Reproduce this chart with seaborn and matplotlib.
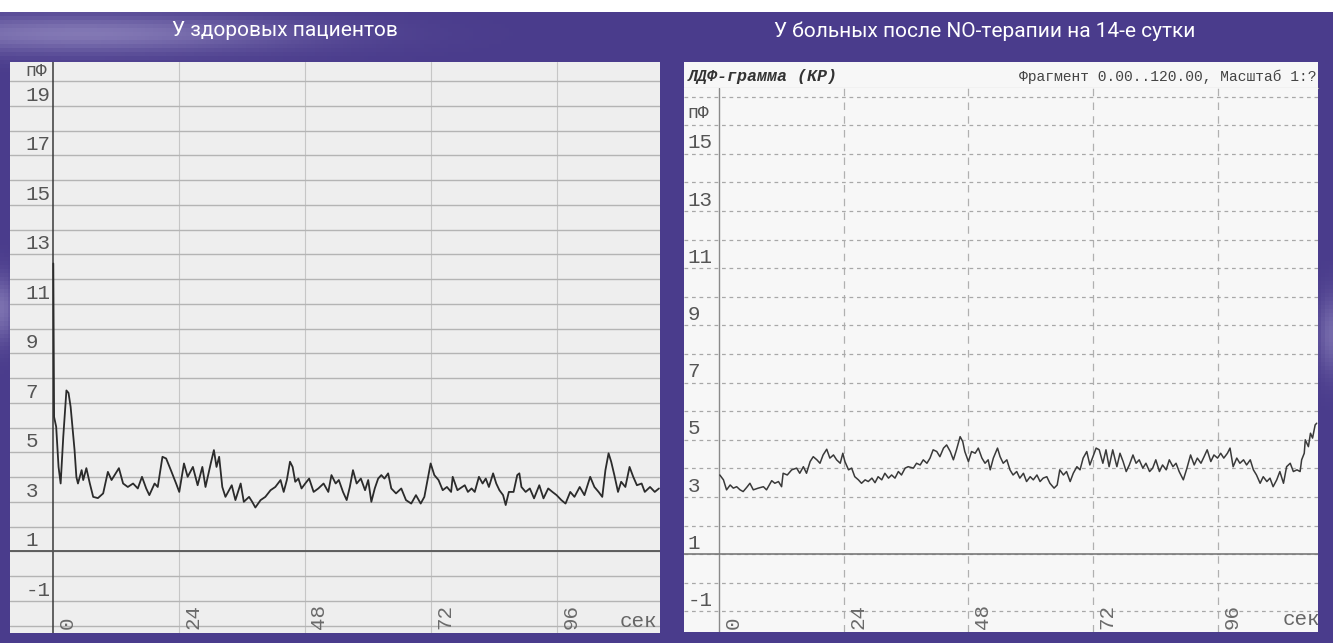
import numpy as np
import matplotlib
matplotlib.use('Agg')
import matplotlib.pyplot as plt
import matplotlib.transforms as mtransforms
from matplotlib.patches import Rectangle
import seaborn as sns

# --- данные ---
titles = ['У здоровых пациентов', 'У больных после NO-терапии на 14-е сутки']
x_ticks = [0, 24, 48, 72, 96]
x_labels = ['0', '24', '48', '72', '96']
left_yvals = [19, 17, 15, 13, 11, 9, 7, 5, 3, 1, -1]
right_yvals = [15, 13, 11, 9, 7, 5, 3, 1, -1]
unit_label = 'пФ'
time_label = 'сек'
header_left = 'ЛДФ-грамма (КР)'
header_right = 'Фрагмент 0.00..120.00, Масштаб 1:?'

# здоровые пациенты: сек / пФ
left_sec = [0, 0.15, 0.55, 1.0, 1.4, 1.9, 2.5, 2.9, 3.3, 3.7,
            4.05, 4.4, 4.7, 5.4, 5.7, 6.3, 6.95, 7.6, 8.5, 9.5,
            10.4, 11.1, 12.5, 13.3, 14.2, 15.2, 16.1, 16.9, 17.7, 18.3,
            19.3, 19.9, 20.8, 21.5, 22.4, 23.4, 24.0, 24.9, 25.6, 26.6,
            27.5, 28.4, 29.0, 30.0, 30.6, 31.1, 31.6, 32.2, 32.8, 34.0,
            34.7, 35.7, 36.3, 37.3, 37.9, 38.5, 39.5, 40.4, 41.4, 42.3,
            43.3, 43.9, 44.5, 45.1, 45.6, 46.1, 46.7, 47.3, 48.0, 48.75,
            49.6, 50.5, 51.5, 52.4, 53.0, 53.8, 54.4, 55.2, 55.9, 56.5,
            57.1, 57.8, 58.6, 59.4, 60.0, 60.6, 61.25, 61.9, 62.5, 63.1,
            63.8, 64.4, 65.3, 66.3, 67.2, 68.2, 69.1, 70.0, 70.7, 71.3,
            71.9, 72.6, 73.4, 74.2, 75.0, 75.8, 76.1, 77.0, 78.4, 79.0,
            79.7, 80.3, 81.1, 81.8, 82.4, 83.0, 83.8, 84.4, 85.0, 85.7,
            86.2, 86.8, 87.7, 88.4, 88.8, 89.2, 90.0, 90.8, 91.6, 92.6,
            93.4, 94.3, 95.1, 95.9, 96.8, 97.6, 98.5, 99.3, 100.3, 101.2,
            102.3, 103.1, 103.9, 104.6, 105.2, 105.8, 106.3, 106.9, 107.6, 108.2,
            109.0, 109.8, 110.5, 111.2, 112.1, 112.7, 113.7, 114.6, 115.4]
left_pf = [12.63, 6.43, 6.03, 4.41, 3.74, 5.63, 7.5, 7.4, 6.84, 5.9,
           5.09, 4.0, 3.74, 4.28, 3.88, 4.36, 3.75, 3.2, 3.15, 3.34,
           4.21, 3.88, 4.36, 3.74, 3.6, 3.74, 3.54, 4.01, 3.54, 3.27,
           3.74, 3.6, 4.82, 4.75, 4.28, 3.74, 3.4, 4.55, 4.01, 4.41,
           3.67, 4.41, 3.6, 4.55, 5.09, 4.41, 4.82, 3.6, 3.2, 3.67,
           3.07, 3.74, 3.0, 3.2, 3.0, 2.77, 3.07, 3.2, 3.47, 3.6,
           3.88, 3.4, 3.88, 4.62, 4.41, 3.81, 3.94, 3.54, 3.74, 3.94,
           3.4, 3.54, 3.74, 3.4, 4.08, 3.74, 3.88, 3.4, 3.07, 3.6,
           4.28, 3.74, 3.94, 3.47, 3.88, 3.0, 3.54, 3.94, 4.08, 3.94,
           4.15, 3.54, 3.34, 3.54, 3.07, 2.93, 3.27, 2.93, 3.2, 3.88,
           4.55, 4.08, 3.88, 3.47, 3.6, 3.4, 4.01, 3.47, 3.67, 3.4,
           3.54, 3.4, 4.01, 3.74, 3.94, 3.6, 4.15, 3.74, 3.47, 3.27,
           2.87, 3.4, 3.4, 4.08, 4.15, 3.6, 3.4, 3.54, 3.14, 3.67,
           3.14, 3.54, 3.4, 3.27, 3.07, 2.93, 3.4, 3.2, 3.6, 3.27,
           4.01, 3.6, 3.4, 3.2, 4.28, 4.96, 4.62, 4.08, 3.4, 3.81,
           3.6, 4.41, 4.01, 3.67, 3.74, 3.4, 3.6, 3.4, 3.54]

# больные после NO-терапии: сек / пФ
right_sec = [0.1, 0.8, 1.4, 2.1, 2.7, 3.35, 4.0, 4.6, 5.3, 5.9,
             6.55, 7.5, 8.5, 9.1, 10.1, 10.7, 11.4, 12.0, 12.3, 13.1,
             13.95, 14.9, 15.5, 16.2, 16.8, 17.5, 18.1, 18.8, 19.4, 20.0,
             20.7, 21.3, 22.0, 22.6, 23.3, 23.8, 24.2, 24.9, 25.5, 26.1,
             26.8, 27.4, 28.1, 28.7, 29.4, 30.0, 30.6, 31.3, 31.9, 32.6,
             33.2, 33.85, 34.5, 35.1, 35.8, 36.4, 37.4, 38.0, 38.7, 39.3,
             40.0, 40.6, 41.2, 41.9, 42.5, 43.2, 43.8, 44.5, 45.1, 45.7,
             46.4, 46.9, 47.3, 48.0, 48.6, 49.3, 49.9, 50.6, 51.2, 51.8,
             52.2, 52.8, 53.6, 54.1, 54.7, 55.4, 56.0, 56.6, 57.3, 57.9,
             58.6, 59.2, 59.9, 60.5, 61.2, 61.8, 62.4, 63.1, 63.7, 64.5,
             65.1, 65.6, 66.3, 66.9, 67.6, 68.2, 68.9, 69.5, 70.1, 70.8,
             71.4, 72.1, 72.6, 73.2, 73.9, 74.5, 75.1, 75.8, 76.6, 77.2,
             77.8, 78.4, 79.0, 79.7, 80.3, 80.9, 81.6, 82.2, 82.9, 83.5,
             84.1, 84.8, 85.4, 86.1, 86.7, 87.4, 88.0, 88.6, 89.4, 90.1,
             90.8, 91.5, 92.1, 92.8, 93.4, 94.0, 94.7, 95.3, 96.0, 96.6,
             97.2, 97.9, 98.4, 99.0, 99.7, 100.3, 101.0, 101.6, 102.3, 102.9,
             103.5, 104.2, 104.8, 105.5, 106.1, 106.7, 107.4, 108.0, 108.7, 109.3,
             110.0, 110.6, 111.3, 111.9, 112.2, 112.7, 112.9, 113.5, 113.9, 114.3,
             114.8, 115.1]
right_pf = [3.77, 3.6, 3.25, 3.42, 3.31, 3.36, 3.25, 3.19, 3.34, 3.48,
            3.25, 3.31, 3.36, 3.25, 3.57, 3.48, 3.54, 3.36, 3.83, 3.77,
            3.95, 4.01, 3.83, 4.06, 3.83, 4.24, 4.41, 4.3, 4.18, 4.47,
            4.67, 4.36, 4.47, 4.3, 4.18, 4.53, 4.24, 3.95, 4.01, 3.71,
            3.6, 3.48, 3.6, 3.54, 3.66, 3.5, 3.71, 3.6, 3.83, 3.66,
            3.77, 3.66, 3.89, 3.77, 4.01, 4.06, 4.01, 4.18, 4.12, 4.3,
            4.18, 4.36, 4.65, 4.59, 4.41, 4.71, 4.82, 4.59, 4.3, 4.65,
            5.11, 4.94, 4.59, 4.24, 4.59, 4.53, 4.71, 4.36, 4.18, 4.3,
            3.95, 4.36, 4.71, 4.41, 4.18, 4.3, 3.95, 3.77, 3.89, 3.66,
            3.83, 3.54, 3.71, 3.6, 3.77, 3.54, 3.66, 3.71, 3.48, 3.31,
            3.42, 3.95, 3.77, 3.89, 3.54, 3.83, 4.06, 3.95, 4.36, 4.59,
            4.12, 4.47, 4.71, 4.65, 4.18, 4.65, 4.06, 4.65, 4.06, 4.53,
            4.24, 3.89, 4.12, 4.47, 4.18, 4.3, 4.01, 4.18, 3.89, 4.01,
            4.3, 3.89, 4.12, 3.95, 4.3, 4.06, 4.18, 3.89, 3.6, 4.01,
            4.47, 4.12, 4.36, 4.18, 4.41, 4.65, 4.24, 4.47, 4.36, 4.53,
            4.36, 4.53, 4.71, 4.06, 4.36, 4.18, 4.3, 4.12, 4.3, 3.95,
            3.77, 3.48, 3.71, 3.54, 3.66, 3.36, 3.6, 3.89, 3.48, 4.06,
            4.18, 3.89, 3.95, 3.89, 4.3, 4.53, 5.0, 4.76, 5.23, 5.06,
            5.52, 5.58]

sns.set_style('white')
plt.rcParams['font.family'] = ['Roboto', 'DejaVu Sans']
MONO = ['Liberation Mono', 'DejaVu Sans Mono']

W, H = 1333, 643
fig = plt.figure(figsize=(W / 100, H / 100), dpi=100)
purple = np.array([74, 60, 140]) / 255
fig.patch.set_facecolor(purple)

# фон: фиолетовый с светлыми разводами слева и сверху
bg = fig.add_axes([0, 0, 1, 1], zorder=-10)
yy, xx = np.mgrid[0:1:160j, 0:1:330j]
glow = 0.40 * np.exp(-((xx - 0.06) / 0.16) ** 2 - ((yy - 0.05) / 0.03) ** 2)
glow += 0.35 * np.exp(-((xx - 0.0) / 0.01) ** 2 - ((yy - 0.48) / 0.05) ** 2)
glow += 0.30 * np.exp(-((xx - 1.0) / 0.01) ** 2 - ((yy - 0.52) / 0.06) ** 2)
img = purple[None, None, :] * (1 - glow[..., None]) + np.array([0.85, 0.83, 0.95])[None, None, :] * glow[..., None]
bg.imshow(img, aspect='auto', extent=[0, 1, 1, 0])
bg.set_xlim(0, 1)
bg.set_ylim(1, 0)
bg.axis('off')
fig.add_artist(Rectangle((0, 1 - 12 / H), 1, 12 / H, transform=fig.transFigure,
                         facecolor='white', edgecolor='none', zorder=-5))


def px_axes(x0, y0, x1, y1):
    return fig.add_axes([x0 / W, 1 - y1 / H, (x1 - x0) / W, (y1 - y0) / H])


fig.text(285 / W, 1 - 31 / H, titles[0], color='white', fontsize=15,
         ha='center', va='center')
fig.text(985 / W, 1 - 31 / H, titles[1], color='white', fontsize=15,
         ha='center', va='center')

# ---------------- левая панель ----------------
ax = px_axes(10, 62, 660, 633)
ax.set_facecolor('#eeeeee')
ax.set_xlim(-8.25, 115.6)
ax.set_ylim(-2.3, 20.77)
ax.set_yticks(range(-2, 21))
ax.set_xticks(x_ticks[1:])
ax.grid(axis='y', color='#b4b4b4', lw=1.0)
ax.grid(axis='x', color='#c6c6c6', lw=0.8)
ax.tick_params(length=0, labelleft=False, labelbottom=False)
for s in ax.spines.values():
    s.set_visible(False)
ax.axvline(0, color='#3a3a3a', lw=1.1)
ax.axhline(1, color='#555555', lw=1.3)
sns.lineplot(x=left_sec, y=left_pf, ax=ax, color='#2b2b2b', linewidth=1.3,
             estimator=None, sort=False, legend=False)
tr = mtransforms.blended_transform_factory(ax.transAxes, ax.transData)
for v in left_yvals:
    ax.text(0.024, v + 0.05, str(v), transform=tr, family=MONO, fontsize=15,
            color='#555555', ha='left', va='bottom')
ax.text(0.024, 20.05, unit_label, transform=tr, family=MONO, fontsize=13,
        color='#555555', ha='left', va='bottom')
for s, lab in zip(x_ticks, x_labels):
    ax.text(s + 0.8, -2.15, lab, rotation=90, family=MONO, fontsize=15,
            color='#6a6a6a', ha='left', va='bottom')
ax.text(0.995, -1.85, time_label, transform=tr, family=MONO, fontsize=15,
        color='#666666', ha='right', va='center')
ax.set_xlabel('')
ax.set_ylabel('')

# ---------------- правая панель ----------------
hx = px_axes(684, 62, 1318, 88)
hx.set_facecolor('#f7f7f7')
hx.set_xticks([])
hx.set_yticks([])
for k, s in hx.spines.items():
    s.set_visible(k == 'bottom')
hx.spines['bottom'].set_color('#999999')
hx.text(0.006, 0.45, header_left, transform=hx.transAxes, family=MONO, fontsize=12,
        fontweight='bold', fontstyle='italic', color='#333333', ha='left', va='center')
hx.text(0.998, 0.45, header_right, transform=hx.transAxes, family=MONO, fontsize=10.5,
        color='#444444', ha='right', va='center')

bx = px_axes(684, 88, 1318, 632)
bx.set_facecolor('#f7f7f7')
bx.set_xlim(-6.8, 115.35)
bx.set_ylim(-1.72, 17.3)
bx.set_yticks(range(-1, 18))
bx.set_xticks(x_ticks[1:])
bx.grid(axis='y', color='#a8a8a8', lw=0.9, linestyle=(0, (3, 3)))
bx.grid(axis='x', color='#b0b0b0', lw=0.9, linestyle=(0, (6, 5)))
bx.tick_params(length=0, labelleft=False, labelbottom=False)
for s in bx.spines.values():
    s.set_visible(False)
bx.axvline(0, color='#8a8a8a', lw=1.0)
bx.axhline(1, color='#7a7a7a', lw=1.2)
sns.lineplot(x=right_sec, y=right_pf, ax=bx, color='#3a3a3a', linewidth=1.1,
             estimator=None, sort=False, legend=False)
tr2 = mtransforms.blended_transform_factory(bx.transAxes, bx.transData)
for v in right_yvals:
    bx.text(0.006, v + 0.05, str(v), transform=tr2, family=MONO, fontsize=15,
            color='#555555', ha='left', va='bottom')
bx.text(0.006, 16.1, unit_label, transform=tr2, family=MONO, fontsize=13,
        color='#555555', ha='left', va='bottom')
for s, lab in zip(x_ticks, x_labels):
    bx.text(s + 0.9, -1.62, lab, rotation=90, family=MONO, fontsize=15,
            color='#6a6a6a', ha='left', va='bottom')
bx.text(1.003, -1.3, time_label, transform=tr2, family=MONO, fontsize=15,
        color='#666666', ha='right', va='center', clip_on=True)
bx.set_xlabel('')
bx.set_ylabel('')

fig.savefig('out.png', dpi=100, facecolor=fig.get_facecolor())
